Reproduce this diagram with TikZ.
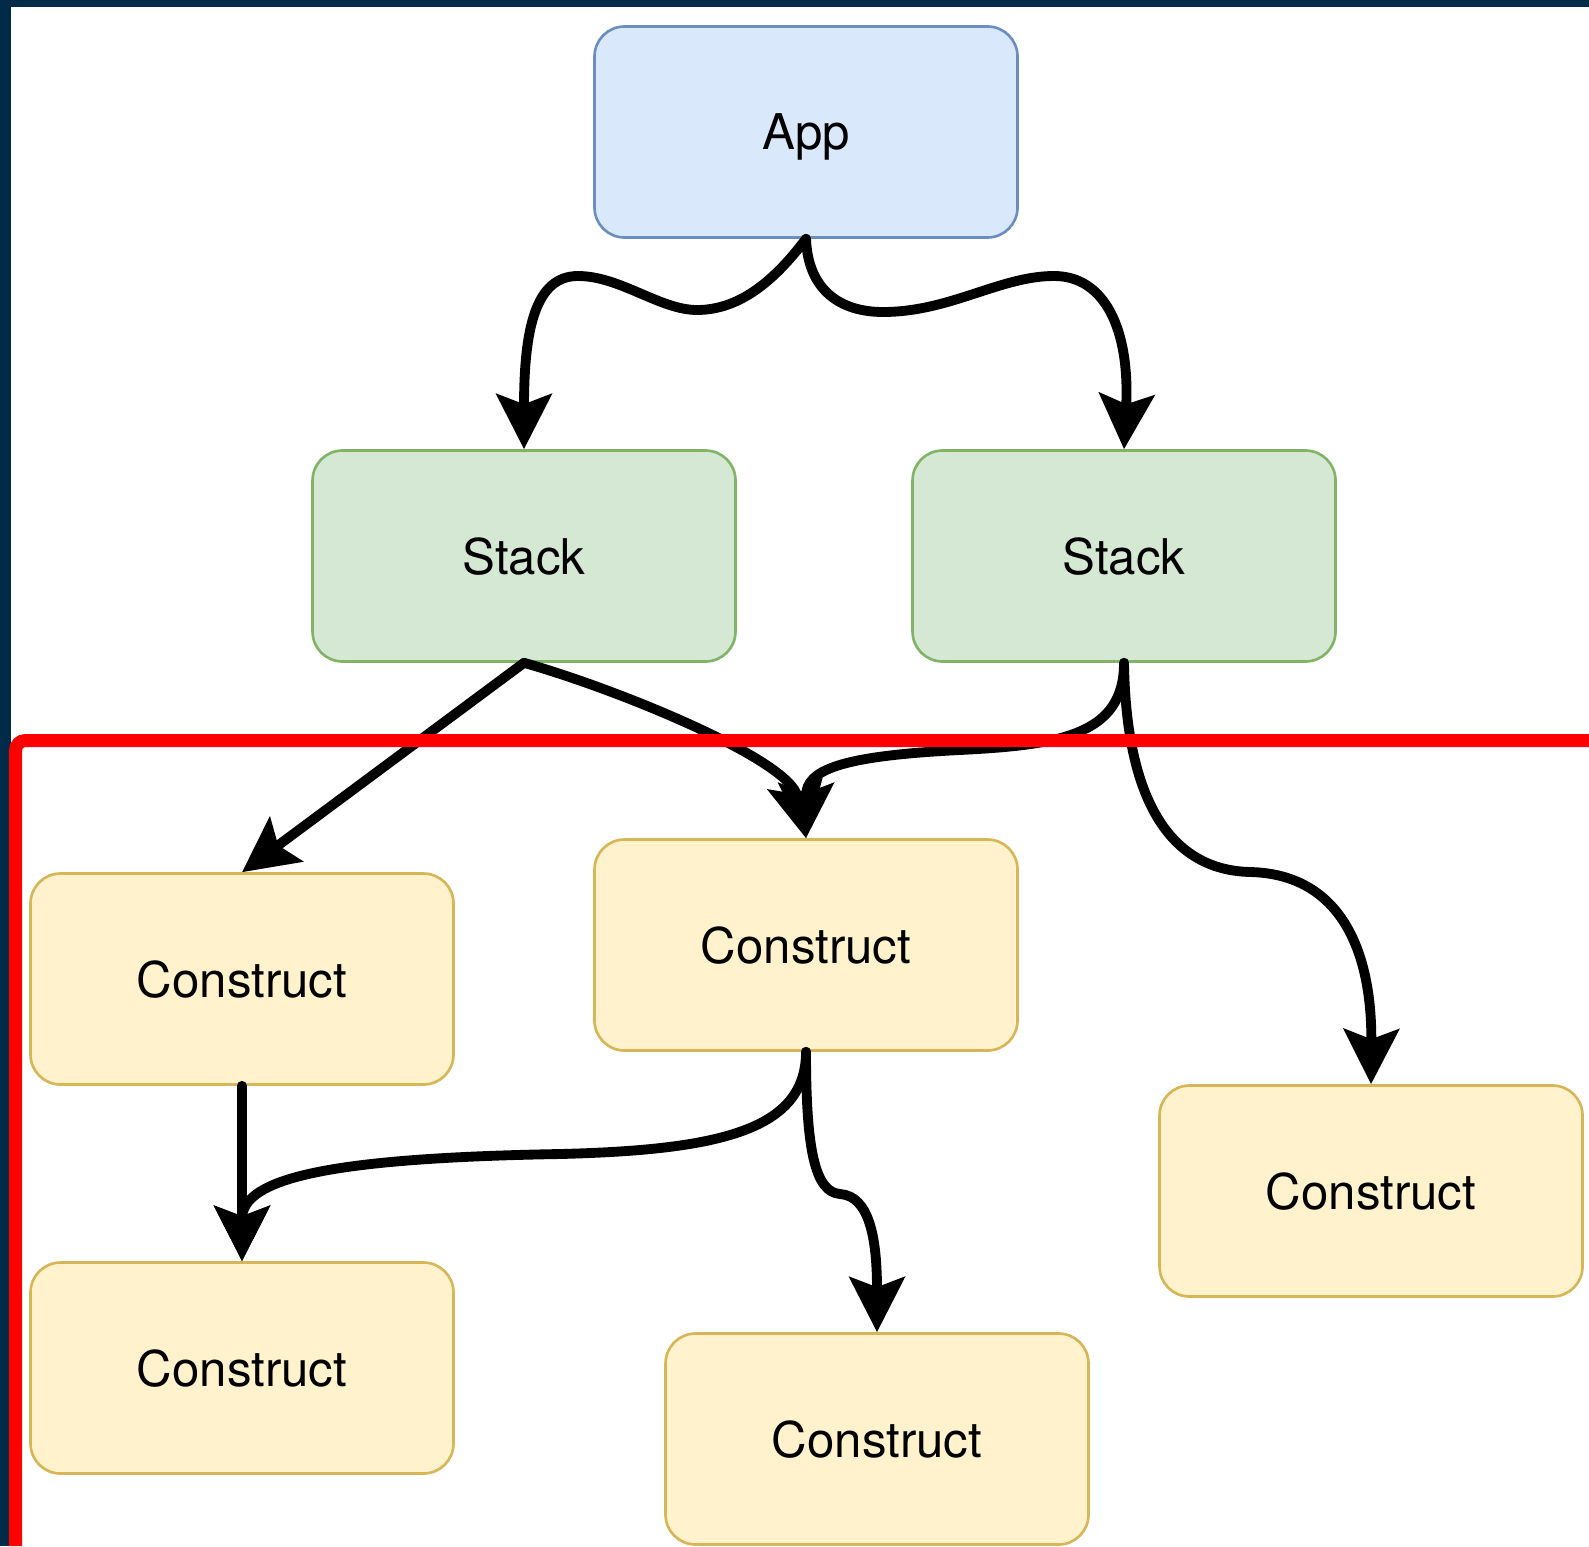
\documentclass[tikz,border=0pt]{standalone}
\usepackage{fontspec}
\setmainfont{TeX Gyre Heros}
\usepackage{tikz}
\usetikzlibrary{arrows.meta}
\usepackage{xcolor}
\definecolor{navy}{RGB}{0,43,72}
\definecolor{appfill}{HTML}{DAE8FC}
\definecolor{appline}{HTML}{6C8EBF}
\definecolor{stackfill}{HTML}{D5E8D4}
\definecolor{stackline}{HTML}{82B366}
\definecolor{confill}{HTML}{FFF2CC}
\definecolor{conline}{HTML}{D6B656}

\begin{document}
\begin{tikzpicture}[>={Stealth[length=5.5mm,width=5.5mm,inset=1mm]},line cap=round,
  box/.style={draw,rounded corners=3mm,line width=0.75pt,minimum width=4.23cm,minimum height=2.11cm,text depth=0pt,font=\fontsize{14}{16}\selectfont},
  appbox/.style={box,draw=appline,fill=appfill},
  stackbox/.style={box,draw=stackline,fill=stackfill},
  conbox/.style={box,draw=conline,fill=confill},
  edge/.style={->,line width=2.8pt}]
\useasboundingbox (0,0) rectangle (15.89,15.46);
\fill[white] (0,0) rectangle (15.89,15.46);
\fill[navy] (0,15.39) rectangle (15.89,15.46);
\fill[navy] (0,0) rectangle (0.11,15.46);
\node[appbox] (app) at (8.06,14.14) {App};
\node[stackbox] (stack1) at (5.24,9.90) {Stack};
\node[stackbox] (stack2) at (11.24,9.90) {Stack};
\node[conbox] (con1) at (2.42,5.67) {Construct};
\node[conbox] (con2) at (8.06,6.01) {Construct};
\node[conbox] (con3) at (13.71,3.55) {Construct};
\node[conbox] (con4) at (2.42,1.78) {Construct};
\node[conbox] (con5) at (8.77,1.07) {Construct};
\draw[edge] (app.south) .. controls (7.75,12.66) and (7.40,12.36) .. (6.97,12.36)
  .. controls (6.60,12.36) and (6.20,12.70) .. (5.78,12.70)
  .. controls (5.35,12.70) and (5.24,12.16) .. (stack1.north);
\draw[edge] (app.south) .. controls (8.08,12.56) and (8.40,12.34) .. (8.83,12.34)
  .. controls (9.50,12.34) and (10.00,12.70) .. (10.54,12.70)
  .. controls (11.05,12.70) and (11.30,12.16) .. (stack2.north);
\draw[edge] (stack1.south) -- (con1.north);
\draw[edge] (stack1.south) .. controls (6.20,8.56) and (7.90,7.86) .. (con2.north);
\draw[edge] (stack2.south) .. controls (11.24,8.11) and (10.60,8.01) .. (9.60,7.96)
  .. controls (8.40,7.90) and (8.06,7.76) .. (con2.north);
\draw[edge] (stack2.south) .. controls (11.26,7.46) and (11.70,6.76) .. (12.50,6.74)
  .. controls (13.40,6.72) and (13.72,5.96) .. (con3.north);
\draw[edge] (con1.south) -- (con4.north);
\draw[edge] (con2.south) .. controls (8.06,4.16) and (7.20,3.96) .. (5.60,3.92)
  .. controls (3.30,3.88) and (2.42,3.68) .. (con4.north);
\draw[edge] (con2.south) .. controls (8.06,3.96) and (8.15,3.54) .. (8.40,3.52)
  .. controls (8.70,3.50) and (8.77,3.06) .. (con5.north);
\draw[red,line width=0.13cm,line cap=butt,rounded corners=1mm] (0.155,0) -- (0.155,8.055) -- (15.89,8.055);
\end{tikzpicture}
\end{document}
